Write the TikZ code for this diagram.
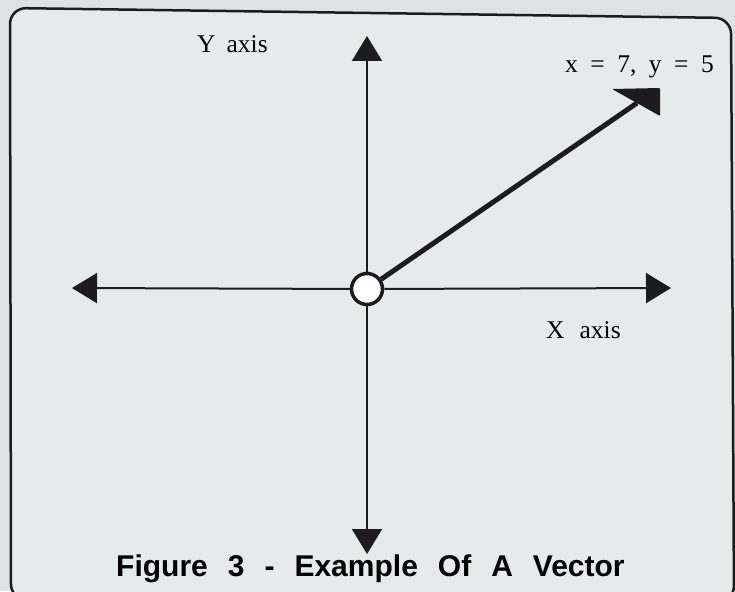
\documentclass[tikz,border=0pt]{standalone}
\usepackage{fontspec}
\setmainfont{Liberation Serif}
\newfontfamily\capfont{Liberation Sans}
\usetikzlibrary{arrows.meta}
\definecolor{paper}{RGB}{221,227,226}
\definecolor{board}{RGB}{229,235,234}
\definecolor{ink}{RGB}{30,26,34}

\begin{document}
\begin{tikzpicture}[x=1pt,y=-1pt,
    axis/.style={ink,line width=2pt,-{Triangle[length=25pt,width=30pt]}},
    vec/.style={ink,line width=5pt},
    lbl/.style={anchor=base west,inner sep=0pt,font=\fontsize{25.5}{26}\selectfont}]
  \fill[paper] (0,0) rectangle (735,591);
  \useasboundingbox (0,0) rectangle (735,591);
  \draw[ink,line width=2.5pt,fill=board,rounded corners=16pt]
    (10,8) -- (731,18) -- (734,602) -- (11,600) -- cycle;
  % origin and axis ends
  \node[circle,draw=ink,fill=white,line width=3.5pt,minimum size=31pt,inner sep=0pt]
    (o) at (367,289) {};
  \coordinate (ytop) at (367,36);
  \coordinate (ybot) at (367,554);
  \coordinate (xlft) at (72,288);
  \coordinate (xrgt) at (671,288);
  \foreach \e in {ytop,ybot,xlft,xrgt}{\draw[axis] (o) -- (\e);}
  % the vector and its head
  \coordinate (vbase) at (637,103);
  \coordinate (vtip) at (660,88);
  \coordinate (hlft) at (612,89);
  \coordinate (hbot) at (660,116);
  \draw[vec] (o) -- (vbase);
  \fill[ink,rounded corners=1pt] (hlft) -- (vtip) -- (hbot) -- cycle;
  \node[lbl] (ylab) at (197,53) {Y\hspace{11pt}axis};
  \node[lbl] (xlab) at (546,338) {X\hspace{15pt}axis};
  \node[lbl] (vlab) at (565,73)
    {x\hspace{12.5pt}=\hspace{12.5pt}7,\hspace{12.5pt}y\hspace{12.5pt}=\hspace{12.5pt}5};
  \node[anchor=base west,inner sep=0pt,font=\capfont\bfseries\fontsize{30}{30}\selectfont]
    (cap) at (116,576)
    {Figure\hspace{20pt}3\hspace{20pt}-\hspace{20pt}Example\hspace{20pt}Of\hspace{20pt}A\hspace{20pt}Vector};
\end{tikzpicture}
\end{document}
